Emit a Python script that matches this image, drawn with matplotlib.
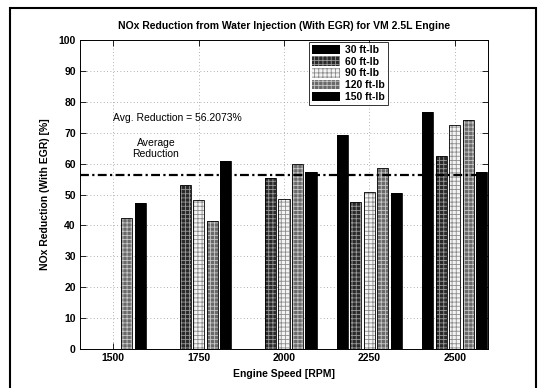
import numpy as np
import matplotlib
matplotlib.use("Agg")
import matplotlib.pyplot as plt
from matplotlib.patches import Rectangle

plt.rcParams['font.family'] = ['Liberation Sans', 'DejaVu Sans']
plt.rcParams['hatch.linewidth'] = 0.6

speeds = ['1500', '1750', '2000', '2250', '2500']
loads = ['30 ft-lb', '60 ft-lb', '90 ft-lb', '120 ft-lb', '150 ft-lb']

# NOx reduction [%] per load, one value per engine speed (0 = no test point)
nox_30 = [0, 0, 0, 69.4, 76.8]
nox_60 = [0, 53.1, 55.3, 47.5, 62.6]
nox_90 = [0, 48.3, 48.5, 50.8, 72.5]
nox_120 = [42.5, 41.4, 59.9, 58.7, 74.1]
nox_150 = [47.1, 60.8, 57.2, 50.4, 57.2]
avg_reduction = 56.2073

series = [nox_30, nox_60, nox_90, nox_120, nox_150]
# face colour, hatch colour, hatch pattern
styles = [
    ('black', 'black', None),
    ('#2a2a2a', '#9a9a9a', '++++'),
    ('#f4f4f4', '#8c8c8c', '++++'),
    ('#6a6a6a', '#c8c8c8', '++++'),
    ('black', 'black', None),
]

fig = plt.figure(figsize=(5.44, 3.88), dpi=100)
ax = fig.add_axes([80 / 544, 1 - 349 / 388, 408 / 544, 309 / 388])

x = np.arange(1, len(speeds) + 1)
step = 0.158
width = 0.13
handles = []
for i, (vals, (fc, hc, hatch)) in enumerate(zip(series, styles)):
    pos = x + (i - 2) * step
    ax.bar(pos, vals, width, color=fc, edgecolor=hc, hatch=hatch,
           linewidth=0, zorder=2)
    ax.bar(pos, vals, width, fill=False, edgecolor='black',
           linewidth=0.6, zorder=3)
    handles.append(Rectangle((0, 0), 1, 1, facecolor=fc, edgecolor=hc,
                             hatch=hatch, linewidth=0))

ax.axhline(avg_reduction, color='black', linestyle='-.', linewidth=1.6,
           dashes=(4, 1.5, 1, 1.5), zorder=4)

ax.set_xlim(0.61, 5.39)
ax.set_ylim(0, 100)
ax.set_xticks(x)
ax.set_xticklabels(speeds)
ax.set_yticks(np.arange(0, 101, 10))
ax.tick_params(direction='in', length=4, width=0.6, labelsize=7.5,
               top=True, right=True, pad=3)
for lab in ax.get_xticklabels() + ax.get_yticklabels():
    lab.set_fontweight('bold')
ax.grid(True, linestyle=(0, (1, 3)), color='#999999', linewidth=0.6, zorder=0)
for sp in ax.spines.values():
    sp.set_linewidth(0.7)

ax.set_title('NOx Reduction from Water Injection (With EGR) for VM 2.5L Engine',
             fontsize=7.5, fontweight='bold', pad=8)
ax.set_xlabel('Engine Speed [RPM]', fontsize=7.5, fontweight='bold', labelpad=4)
ax.set_ylabel('NOx Reduction (With EGR) [%]', fontsize=7.5, fontweight='bold',
              labelpad=6)

ax.text(1.75, 74.8, 'Avg. Reduction = %.4f%%' % avg_reduction, ha='center',
        va='center', fontsize=7.5)
ax.text(1.5, 65, 'Average\nReduction', ha='center', va='center', fontsize=7.5,
        linespacing=1.1)

leg = ax.legend(handles, loads, loc='upper left', bbox_to_anchor=(0.562, 0.995),
                fontsize=7.5, frameon=True, fancybox=False, borderpad=0.3,
                labelspacing=0.15, handlelength=2.6, handleheight=1.0,
                handletextpad=0.5, borderaxespad=0)
leg.get_frame().set_edgecolor('black')
leg.get_frame().set_linewidth(0.7)
for t in leg.get_texts():
    t.set_fontweight('bold')

# page frame around the figure
fig.patches.append(Rectangle((10 / 544, -0.05), 526 / 544, 1.05 - 8 / 388,
                             transform=fig.transFigure, fill=False,
                             edgecolor='black', linewidth=1.5))

fig.savefig('out.png', dpi=100)
